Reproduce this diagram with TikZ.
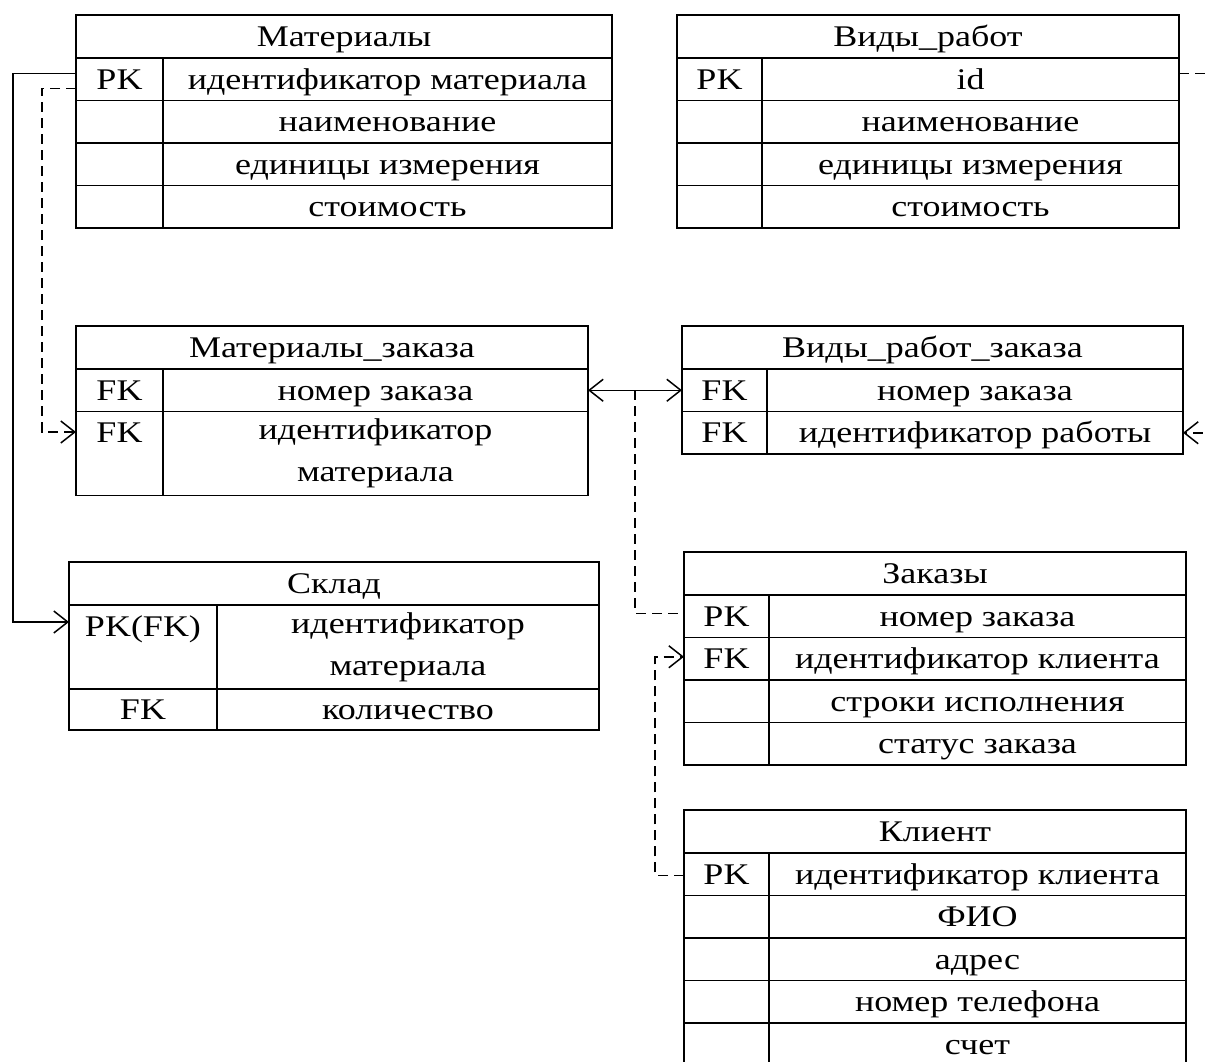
\documentclass[tikz,border=0pt]{standalone}
\usepackage{fontspec}
\setmainfont{Liberation Serif}[FakeStretch=1.2]
\usetikzlibrary{arrows.meta,calc}

\begin{document}
\begin{tikzpicture}[x=1pt, y=-1pt,
    box/.style={draw, rectangle, anchor=north west, inner sep=0pt, outer sep=0pt,
      line width=1.7pt, font=\fontsize{30}{42}\selectfont},
    cell/.style={box, text height=24pt, text depth=4pt},
    cellii/.style={box, align=center},
    link/.style={line width=1.5pt},
    dlink/.style={line width=1.5pt, dash pattern=on 10pt off 6pt},
    tip/.style={-{Straight Barb[length=14pt,width=22pt]}}]
      \useasboundingbox (0,0) rectangle (1207,1061);
      \clip (0,0) rectangle (1207,1061);

      % Материалы
      \node[cell, minimum width=536pt, minimum height=43pt] (mat) at (76,15) {Материалы};
      \node[cell, minimum width=87pt, minimum height=42.5pt] (mat-k1) at (76,58) {PK};
      \node[cell, minimum width=449pt, minimum height=42.5pt] (mat-v1) at (163,58) {идентификатор материала};
      \node[cell, minimum width=87pt, minimum height=42.5pt] (mat-k2) at (76,100.5) {};
      \node[cell, minimum width=449pt, minimum height=42.5pt] (mat-v2) at (163,100.5) {наименование};
      \node[cell, minimum width=87pt, minimum height=42.5pt] (mat-k3) at (76,143) {};
      \node[cell, minimum width=449pt, minimum height=42.5pt] (mat-v3) at (163,143) {единицы измерения};
      \node[cell, minimum width=87pt, minimum height=42.5pt] (mat-k4) at (76,185.5) {};
      \node[cell, minimum width=449pt, minimum height=42.5pt] (mat-v4) at (163,185.5) {стоимость};

      % Виды_работ
      \node[cell, minimum width=502pt, minimum height=43pt] (vr) at (677,15) {Виды\_работ};
      \node[cell, minimum width=85pt, minimum height=42.5pt] (vr-k1) at (677,58) {PK};
      \node[cell, minimum width=417pt, minimum height=42.5pt] (vr-v1) at (762,58) {id};
      \node[cell, minimum width=85pt, minimum height=42.5pt] (vr-k2) at (677,100.5) {};
      \node[cell, minimum width=417pt, minimum height=42.5pt] (vr-v2) at (762,100.5) {наименование};
      \node[cell, minimum width=85pt, minimum height=42.5pt] (vr-k3) at (677,143) {};
      \node[cell, minimum width=417pt, minimum height=42.5pt] (vr-v3) at (762,143) {единицы измерения};
      \node[cell, minimum width=85pt, minimum height=42.5pt] (vr-k4) at (677,185.5) {};
      \node[cell, minimum width=417pt, minimum height=42.5pt] (vr-v4) at (762,185.5) {стоимость};

      % Материалы_заказа
      \node[cell, minimum width=512pt, minimum height=43pt] (mz) at (76,326) {Материалы\_заказа};
      \node[cell, minimum width=87pt, minimum height=42.5pt] (mz-k1) at (76,369) {FK};
      \node[cell, minimum width=425pt, minimum height=42.5pt] (mz-v1) at (163,369) {номер заказа};
      \node[cellii, minimum width=87pt, minimum height=84pt] (mz-k2) at (76,411.5) {FK\\\phantom{FK}};
      \node[cellii, minimum width=425pt, minimum height=84pt] (mz-v2) at (163,411.5) {идентификатор\\материала};

      % Виды_работ_заказа
      \node[cell, minimum width=501pt, minimum height=43pt] (vrz) at (682,326) {Виды\_работ\_заказа};
      \node[cell, minimum width=85pt, minimum height=42.5pt] (vrz-k1) at (682,369) {FK};
      \node[cell, minimum width=416pt, minimum height=42.5pt] (vrz-v1) at (767,369) {номер заказа};
      \node[cell, minimum width=85pt, minimum height=42.5pt] (vrz-k2) at (682,411.5) {FK};
      \node[cell, minimum width=416pt, minimum height=42.5pt] (vrz-v2) at (767,411.5) {идентификатор работы};

      % Склад
      \node[cell, minimum width=530pt, minimum height=43pt] (skl) at (69,562) {Склад};
      \node[cellii, minimum width=148pt, minimum height=84pt] (skl-k1) at (69,605) {PK(FK)\\\phantom{FK}};
      \node[cellii, minimum width=382pt, minimum height=84pt] (skl-v1) at (217,605) {идентификатор\\материала};
      \node[cell, minimum width=148pt, minimum height=41pt] (skl-k2) at (69,689) {FK};
      \node[cell, minimum width=382pt, minimum height=41pt] (skl-v2) at (217,689) {количество};

      % Заказы
      \node[cell, minimum width=502pt, minimum height=43pt] (zak) at (684,552) {Заказы};
      \node[cell, minimum width=85pt, minimum height=42.5pt] (zak-k1) at (684,595) {PK};
      \node[cell, minimum width=417pt, minimum height=42.5pt] (zak-v1) at (769,595) {номер заказа};
      \node[cell, minimum width=85pt, minimum height=42.5pt] (zak-k2) at (684,637.5) {FK};
      \node[cell, minimum width=417pt, minimum height=42.5pt] (zak-v2) at (769,637.5) {идентификатор клиента};
      \node[cell, minimum width=85pt, minimum height=42.5pt] (zak-k3) at (684,680) {};
      \node[cell, minimum width=417pt, minimum height=42.5pt] (zak-v3) at (769,680) {строки исполнения};
      \node[cell, minimum width=85pt, minimum height=42.5pt] (zak-k4) at (684,722.5) {};
      \node[cell, minimum width=417pt, minimum height=42.5pt] (zak-v4) at (769,722.5) {статус заказа};

      % Клиент
      \node[cell, minimum width=502pt, minimum height=43pt] (kl) at (684,810) {Клиент};
      \node[cell, minimum width=85pt, minimum height=42.5pt] (kl-k1) at (684,853) {PK};
      \node[cell, minimum width=417pt, minimum height=42.5pt] (kl-v1) at (769,853) {идентификатор клиента};
      \node[cell, minimum width=85pt, minimum height=42.5pt] (kl-k2) at (684,895.5) {};
      \node[cell, minimum width=417pt, minimum height=42.5pt] (kl-v2) at (769,895.5) {ФИО};
      \node[cell, minimum width=85pt, minimum height=42.5pt] (kl-k3) at (684,938) {};
      \node[cell, minimum width=417pt, minimum height=42.5pt] (kl-v3) at (769,938) {адрес};
      \node[cell, minimum width=85pt, minimum height=42.5pt] (kl-k4) at (684,980.5) {};
      \node[cell, minimum width=417pt, minimum height=42.5pt] (kl-v4) at (769,980.5) {номер телефона};
      \node[cell, minimum width=85pt, minimum height=42.5pt] (kl-k5) at (684,1023) {};
      \node[cell, minimum width=417pt, minimum height=42.5pt] (kl-v5) at (769,1023) {счет};

      % связи
      \draw[link, tip] ([yshift=6pt]mat-k1.west) -- ++(-63,0) |- ([yshift=25pt]skl-k1.west);
      \draw[dlink, tip] ([yshift=-9pt]mat-k1.west) -- ++(-34,0) |- ([yshift=21.5pt]mz-k2.west);
      \draw[link, {Straight Barb[length=14pt,width=22pt]}-{Straight Barb[length=14pt,width=22pt]}] (mz-v1.east) -- (vrz-k1.west);
      \draw[dlink] ($(mz-v1.east)!0.5!(vrz-k1.west)$) |- ([yshift=3pt]zak-k1.west);
      \draw[dlink, tip] ([yshift=-1pt]kl-k1.west) -- ++(-29,0) |- ([yshift=2pt]zak-k2.west);
      \draw[dlink, tip] ([yshift=6pt]vr-v1.east) -- ++(56,0) |- (vrz-v2.east);
    \end{tikzpicture}
\end{document}
